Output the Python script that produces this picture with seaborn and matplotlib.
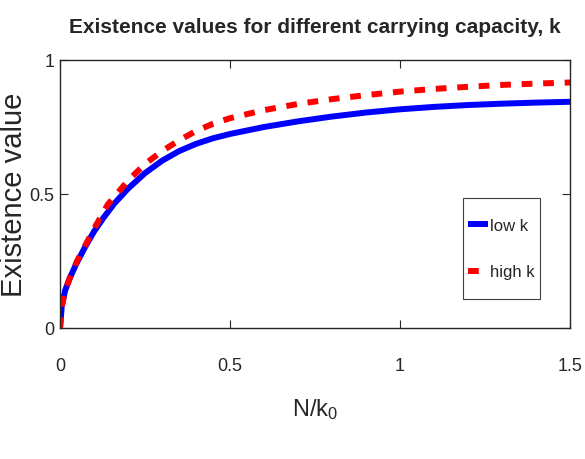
import numpy as np
import pandas as pd
import seaborn as sns
import matplotlib
matplotlib.use("Agg")
import matplotlib.pyplot as plt

# Existence value curves, sampled along N/k0
n_low = [0, 0.005, 0.015, 0.03, 0.05, 0.075, 0.1, 0.13, 0.16, 0.2, 0.25,
         0.3, 0.35, 0.4, 0.45, 0.5, 0.6, 0.7, 0.8, 0.9, 1.0, 1.1, 1.2,
         1.3, 1.4, 1.5]
e_low = [0, 0.08, 0.14, 0.19, 0.245, 0.305, 0.36, 0.415, 0.465, 0.52, 0.578,
         0.624, 0.66, 0.687, 0.708, 0.724, 0.75, 0.771, 0.789, 0.804, 0.816,
         0.825, 0.832, 0.837, 0.841, 0.844]

n_high = [0, 0.005, 0.015, 0.03, 0.05, 0.075, 0.1, 0.14, 0.2, 0.25, 0.3,
          0.35, 0.4, 0.45, 0.5, 0.6, 0.7, 0.8, 0.9, 1.0, 1.1, 1.2, 1.3,
          1.4, 1.5]
e_high = [0, 0.08, 0.14, 0.19, 0.25, 0.31, 0.37, 0.46, 0.55, 0.612, 0.66,
          0.70, 0.735, 0.762, 0.783, 0.813, 0.836, 0.854, 0.869, 0.882,
          0.892, 0.90, 0.907, 0.912, 0.916]

x_ticks = [0, 0.5, 1, 1.5]
x_ticklabels = ["0", "0.5", "1", "1.5"]
y_ticks = [0, 0.5, 1]
y_ticklabels = ["0", "0.5", "1"]

series_labels = ["low k", "high k"]

sns.set_theme(style="white")
plt.rcParams["font.family"] = ["Liberation Sans", "DejaVu Sans"]
plt.rcParams["mathtext.fontset"] = "custom"
plt.rcParams["mathtext.rm"] = "Liberation Sans"
plt.rcParams["mathtext.it"] = "Liberation Sans"

fig = plt.figure(figsize=(5.85, 4.60), dpi=100)
ax = fig.add_axes([0.1026, 0.2848, 0.8718, 0.5826])

low_df = pd.DataFrame({"n": n_low, "e": e_low})
high_df = pd.DataFrame({"n": n_high, "e": e_high})

sns.lineplot(data=low_df, x="n", y="e", ax=ax, color="#0000ff", lw=4.3,
             label=series_labels[0], solid_capstyle="butt")
sns.lineplot(data=high_df, x="n", y="e", ax=ax, color="#ff0000", lw=4.3,
             linestyle=(0, (1.8, 1.8)), dash_capstyle="butt",
             label=series_labels[1])

ax.set_xlim(0, 1.5)
ax.set_ylim(0, 1)
ax.set_xticks(x_ticks)
ax.set_xticklabels(x_ticklabels)
ax.set_yticks(y_ticks)
ax.set_yticklabels(y_ticklabels)

for s in ax.spines.values():
    s.set_visible(True)
    s.set_color("#262626")
    s.set_linewidth(1.0)

ax.tick_params(axis="both", which="both", direction="in", length=6,
               width=0.8, color="#262626", labelcolor="#262626",
               labelsize=13, top=True, right=True, bottom=True, left=True)
ax.tick_params(axis="x", pad=21)
ax.tick_params(axis="y", pad=4)

ax.set_title("Existence values for different carrying capacity, k",
             fontsize=15, fontweight="bold", pad=20)
ax.set_xlabel(r"N/k$_{\mathrm{0}}$", fontsize=17, color="#262626")
ax.xaxis.set_label_coords(0.5, -0.255)
ax.set_ylabel("Existence value", fontsize=21, color="#262626")
ax.yaxis.set_label_coords(-0.062, 0.5)

leg = ax.legend(loc="center", bbox_to_anchor=(0.866, 0.297), fontsize=12,
                frameon=True, fancybox=False, framealpha=1,
                edgecolor="#404040", handlelength=1.2, handleheight=3.7,
                handletextpad=0.12, labelspacing=0.15, borderpad=0.3,
                borderaxespad=0)
leg.get_frame().set_linewidth(0.8)
for t in leg.get_texts():
    t.set_color("#262626")
# centre the legend sample lines on their labels
for h in leg.legend_handles:
    h.set_ydata(np.asarray(h.get_ydata()) - 5.5)

fig.savefig("out.png", dpi=100, facecolor="white")
